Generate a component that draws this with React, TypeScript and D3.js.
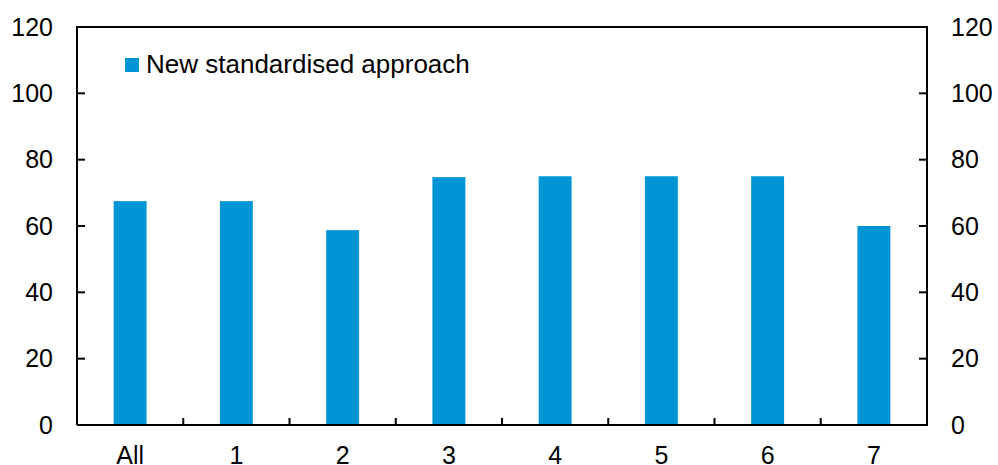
import React, { useRef, useEffect } from 'react';
import * as d3 from 'd3';

const categories = ['All', '1', '2', '3', '4', '5', '6', '7'];
const values = [67.5, 67.5, 58.75, 74.75, 75, 75, 75, 60];
const yTicks = [0, 20, 40, 60, 80, 100, 120];
const seriesName = 'New standardised approach';

const width = 998;
const height = 465;
const barColor = '#0096d6';
const font = '"Liberation Sans", Arial, sans-serif';

const App: React.FC = () => {
  const ref = useRef<SVGSVGElement>(null);

  useEffect(() => {
    const svg = d3.select(ref.current!);
    svg.selectAll('*').remove();

    const margin = { top: 27, right: 71, bottom: 40, left: 77 };
    const x0 = margin.left;
    const x1 = width - margin.right;
    const yTop = margin.top;

    const xScale = d3.scaleBand<string>()
      .domain(categories)
      .range([x0, x1]);

    const yScale = d3.scaleLinear()
      .domain([0, 120])
      .range([425, yTop]);

    // bars
    const bw = xScale.bandwidth() * 0.31;
    svg.append('g')
      .selectAll('rect')
      .data(values)
      .enter().append('rect')
      .attr('x', (d, i) => xScale(categories[i])! + xScale.bandwidth() / 2 - bw / 2)
      .attr('y', d => yScale(d))
      .attr('width', bw)
      .attr('height', d => yScale(0) - yScale(d))
      .attr('fill', barColor);

    // frame round the plot
    const frame = svg.append('g').attr('stroke', '#000').attr('stroke-width', 2).attr('fill', 'none');
    frame.append('path')
      .attr('d', `M${x0},${yScale(0)}V${yTop}H${x1}V${yScale(0)}H${x0}`);

    // y ticks (inward) + labels on both sides
    yTicks.forEach(t => {
      const y = yScale(t);
      if (t > 0 && t < 120) {
        frame.append('line').attr('x1', x0).attr('x2', x0 + 8).attr('y1', y).attr('y2', y);
        frame.append('line').attr('x1', x1).attr('x2', x1 - 8).attr('y1', y).attr('y2', y);
      }
      svg.append('text')
        .attr('x', 53).attr('y', y).attr('dy', '0.35em')
        .attr('text-anchor', 'end')
        .attr('font-family', font).attr('font-size', 25)
        .text(t);
      svg.append('text')
        .attr('x', 951).attr('y', y).attr('dy', '0.35em')
        .attr('text-anchor', 'start')
        .attr('font-family', font).attr('font-size', 25)
        .text(t);
    });

    // x ticks at category boundaries
    categories.slice(1).forEach(c => {
      const x = xScale(c)!;
      frame.append('line').attr('x1', x).attr('x2', x).attr('y1', yScale(0)).attr('y2', yScale(0) - 7);
    });

    // x labels
    svg.append('g')
      .selectAll('text')
      .data(categories)
      .enter().append('text')
      .attr('x', d => xScale(d)! + xScale.bandwidth() / 2)
      .attr('y', 464)
      .attr('text-anchor', 'middle')
      .attr('font-family', font).attr('font-size', 25)
      .text(d => d);

    // legend
    svg.append('rect')
      .attr('x', 125).attr('y', 58).attr('width', 14).attr('height', 14)
      .attr('fill', barColor);
    svg.append('text')
      .attr('x', 146).attr('y', 73)
      .attr('font-family', font).attr('font-size', 26)
      .text(seriesName);
  }, []);

  return (
    <svg
      ref={ref}
      width={width}
      height={height}
      style={{ position: 'absolute', left: 0, top: 0, background: '#fff' }}
    ></svg>
  );
};

export default App;
